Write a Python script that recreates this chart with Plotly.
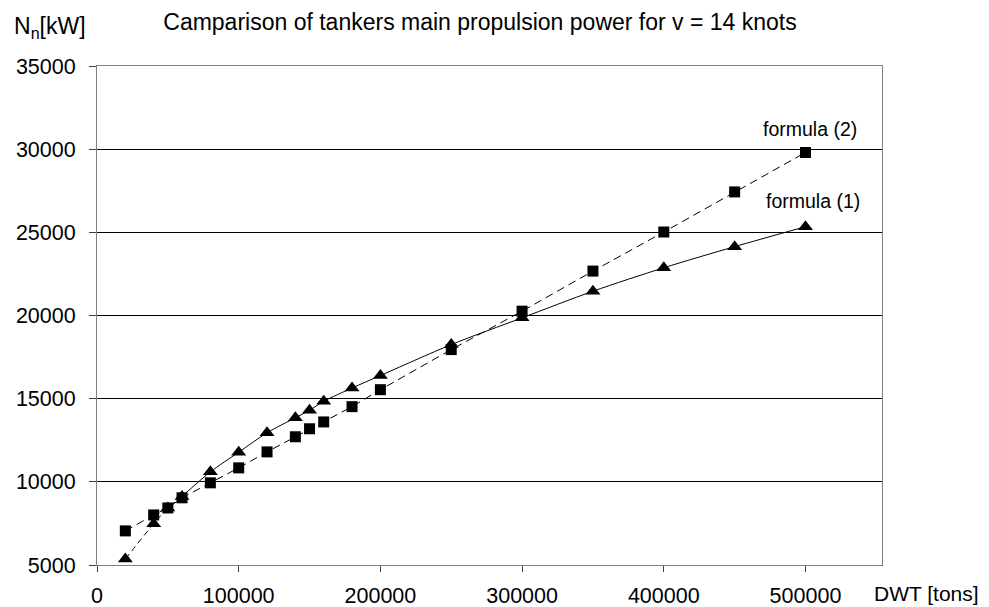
import plotly.graph_objects as go

# Data
dwt = [20000, 40000, 50000, 60000, 80000, 100000, 120000, 140000, 150000, 160000,
       180000, 200000, 250000, 300000, 350000, 400000, 450000, 500000]
formula2 = [7050, 8010, 8430, 9040, 9940, 10840, 11800, 12710, 13190, 13600,
            14520, 15540, 17950, 20260, 22670, 25020, 27430, 29800]
formula1 = [5360, 7480, 8420, 9120, 10600, 11780, 12950, 13850, 14300, 14840,
            15640, 16390, 18250, 19860, 21460, 22870, 24140, 25340]

x_ticks = [0, 100000, 200000, 300000, 400000, 500000]
y_ticks = [5000, 10000, 15000, 20000, 25000, 30000, 35000]

title_text = "Camparison of tankers main propulsion power for v = 14 knots"
FONT = "Liberation Sans, Arial, sans-serif"

W, H = 989, 607
L, R, T, B = 89, 115, 58, 50   # page body adds an 8px offset
PW, PH = W - L - R, H - T - B

fig = go.Figure()

# formula (1) - dashed start section, then smoothed solid line
split = 3  # index of 60000
fig.add_trace(go.Scatter(
    x=dwt[:split + 1], y=formula1[:split + 1], mode="lines",
    line=dict(color="black", width=1, dash="6px,4px", shape="spline"),
    showlegend=False, hoverinfo="skip"))
fig.add_trace(go.Scatter(
    x=dwt[split:], y=formula1[split:], mode="lines",
    line=dict(color="black", width=1, shape="spline", smoothing=0.8),
    showlegend=False, hoverinfo="skip"))
fig.add_trace(go.Scatter(
    x=dwt, y=formula1, mode="markers", name="formula (1)",
    marker=dict(symbol="triangle-up", size=13, color="black"),
    showlegend=False))

# formula (2) - dashed straight line with squares
fig.add_trace(go.Scatter(
    x=dwt, y=formula2, mode="lines+markers", name="formula (2)",
    line=dict(color="black", width=1, dash="8px,5px"),
    marker=dict(symbol="square", size=11, color="black"),
    showlegend=False))

fig.update_layout(
    width=W, height=H,
    margin=dict(l=L, r=R, t=T, b=B, autoexpand=False),
    paper_bgcolor="white", plot_bgcolor="white",
    font=dict(family=FONT, size=21, color="black"),
    title=dict(text=title_text, x=472 / W, xanchor="center",
               y=1 - 14 / H, yanchor="middle", yref="container",
               font=dict(family=FONT, size=23, color="black")),
    showlegend=False,
)

fig.update_xaxes(
    range=[0, 554000], tickvals=x_ticks, ticktext=[str(v) for v in x_ticks],
    showgrid=False, zeroline=False, automargin=False,
    showline=True, linecolor="#808080", linewidth=1, mirror=True,
    ticks="outside", ticklen=6, tickcolor="#404040", ticklabelstandoff=5,
    tickfont=dict(family=FONT, size=21.5, color="black"))

fig.update_yaxes(
    range=[5000, 35000], tickvals=y_ticks, ticktext=[str(v) for v in y_ticks],
    showgrid=True, gridcolor="black", gridwidth=1, zeroline=False, automargin=False,
    showline=True, linecolor="#808080", linewidth=1, mirror=True,
    ticks="outside", ticklen=7, tickcolor="#404040", ticklabelstandoff=9,
    tickfont=dict(family=FONT, size=21.5, color="black"))

fig.add_annotation(x=503000, y=31200, xref="x", yref="y", text="formula (2)",
                   showarrow=False, font=dict(family=FONT, size=19.5, color="black"))
fig.add_annotation(x=505000, y=26870, xref="x", yref="y", text="formula (1)",
                   showarrow=False, font=dict(family=FONT, size=19.5, color="black"))
fig.add_annotation(x=(4 - L) / PW, y=1 + (T - 20) / PH, xref="paper", yref="paper",
                   xanchor="left", yanchor="middle", text="N<sub>n</sub>[kW]",
                   showarrow=False, font=dict(family=FONT, size=23, color="black"))
fig.add_annotation(x=(864 - L) / PW, y=-(585 - (H - B)) / PH, xref="paper", yref="paper",
                   xanchor="left", yanchor="middle", text="DWT [tons]",
                   showarrow=False, font=dict(family=FONT, size=21, color="black"))

fig.write_html("out.html")
